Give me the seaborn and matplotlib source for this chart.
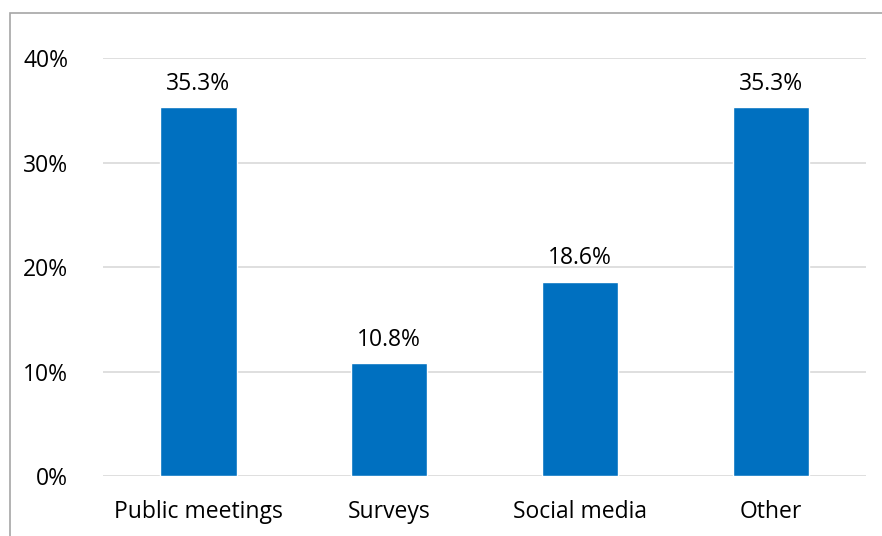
from matplotlib import pyplot as plt
from matplotlib.patches import Rectangle
from matplotlib.ticker import PercentFormatter
import seaborn as sns
import pandas as pd

categories = ['Public meetings', 'Surveys', 'Social media', 'Other']
shares = [35.3, 10.8, 18.6, 35.3]
yticks = [0, 10, 20, 30, 40]

sns.set_style('white')
plt.rcParams['font.family'] = ['Open Sans', 'DejaVu Sans']
plt.rcParams['text.color'] = 'black'

df = pd.DataFrame({'method': categories, 'share': shares})

fig = plt.figure(figsize=(8.82, 5.36), dpi=100)
ax = fig.add_axes([0.1168, 0.1119, 0.8651, 0.7799])

sns.barplot(data=df, x='method', y='share', color='#0070C0', width=0.4,
            saturation=1, ax=ax, zorder=3)

ax.set_ylim(0, 40)
ax.set_yticks(yticks)
ax.yaxis.set_major_formatter(PercentFormatter(decimals=0))
ax.grid(axis='y', color='#d9d9d9', linewidth=1.2, zorder=0)
ax.set_xlabel('')
ax.set_ylabel('')
for s in ax.spines.values():
    s.set_visible(False)
ax.tick_params(axis='both', length=0, labelsize=16.5, colors='black')
ax.tick_params(axis='y', pad=25)
ax.tick_params(axis='x', pad=17)

for i, v in enumerate(shares):
    ax.text(i, v + 1.1, f'{v:.1f}%', ha='center', va='bottom', fontsize=16.5,
            color='black')

fig.patches.append(Rectangle((10 / 882, -0.1), 1.2, 1 - 13 / 536 + 0.1,
                             transform=fig.transFigure, fill=False,
                             edgecolor='#a6a6a6', linewidth=1.2))

fig.savefig('out.png', dpi=100)
